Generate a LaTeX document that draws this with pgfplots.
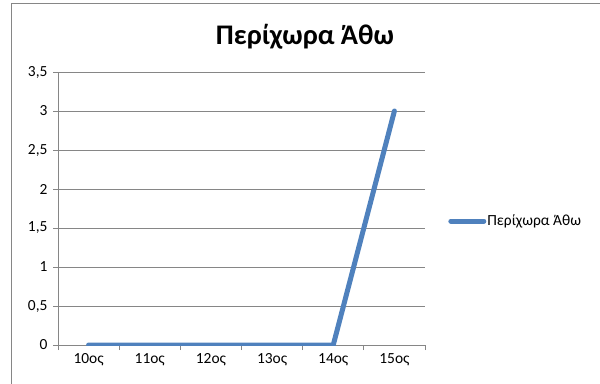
\documentclass[border=0pt]{standalone}
\usepackage{pgfplots}
\pgfplotsset{compat=1.18}
\usepackage{fontspec}
\setmainfont{Carlito}
\definecolor{linec}{HTML}{4F81BD}
\definecolor{gridc}{HTML}{868686}
\begin{document}
\begin{tikzpicture}[x=1bp,y=1bp]
\path[use as bounding box] (0,0) rectangle (600,383);
\begin{axis}[
 at={(58bp,38bp)}, anchor=south west,
 scale only axis, width=367bp, height=273bp,
 xmin=-0.5, xmax=5.5, ymin=0, ymax=3.5,
 axis x line*=bottom, axis y line*=left,
 axis line style={gridc, line width=1bp},
 ytick={0,0.5,...,3.5},
 ymajorgrids, grid style={gridc, line width=1bp},
 xtick={-0.5,0.5,...,5.5}, xticklabels={},
 extra x ticks={0,1,2,3,4,5},
 extra x tick labels={10ος,11ος,12ος,13ος,14ος,15ος},
 extra x tick style={major tick length=0pt, grid=none},
 tick align=outside, major tick length=5bp,
 tick style={gridc, line width=1bp},
 /pgf/number format/assume math mode=true,
 /pgf/number format/use comma,
 ticklabel style={font=\fontsize{15.5}{15.5}\selectfont},
 yticklabel style={xshift=-2bp},
 xticklabel style={yshift=-5bp},
 legend style={at={(1.063,0.454)}, anchor=west, draw=none, fill=none,
   font=\fontsize{15.5}{15.5}\selectfont, inner sep=0pt,
   nodes={inner sep=1bp}},
 legend image code/.code={\draw[#1] (0bp,0bp) -- (33bp,0bp);},
]
\addplot[linec, line width=5bp, line join=round, line cap=round] coordinates {(0,0)(1,0)(2,0)(3,0)(4,0)(5,3)};
\legend{Περίχωρα Άθω}
\end{axis}
\draw[gridc, line width=1.2bp] (11.5,-10) -- (11.5,379.5) -- (610,379.5);
\node[font=\bfseries\fontsize{28.5}{28.5}\selectfont] at (305,346) {Περίχωρα Άθω};
\end{tikzpicture}
\end{document}
